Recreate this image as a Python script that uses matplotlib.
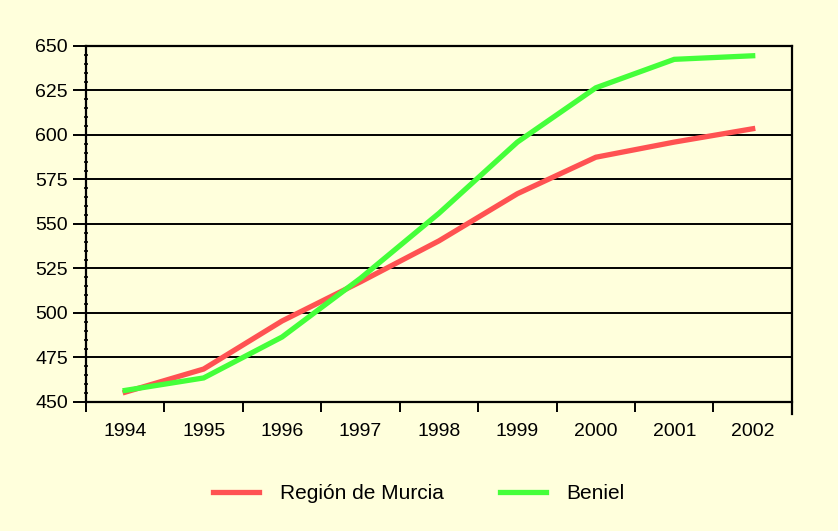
import matplotlib.pyplot as plt
from matplotlib.ticker import MultipleLocator, FixedLocator, NullFormatter

plt.rcParams['font.family'] = ['Liberation Sans', 'DejaVu Sans']

# ---------------------------
# Data
# ---------------------------
years = ["1994", "1995", "1996", "1997", "1998", "1999", "2000", "2001", "2002"]
murcia = [455.5, 468.5, 495.5, 517.5, 540.5, 567, 587.5, 596, 603.5]
beniel = [456.5, 463.5, 486.5, 519.5, 556, 596, 626.5, 642.5, 644.5]

bg = "#FFFFDC"
red = "#FF5252"
green = "#44FF3A"

fig = plt.figure(figsize=(8.38, 5.31), dpi=100, facecolor=bg)
ax = fig.add_axes([0.1026, 0.243, 0.8424, 0.6704], facecolor=bg)

x = list(range(len(years)))
ax.plot(x, murcia, color=red, lw=3.8, label="Región de Murcia", solid_joinstyle="miter")
ax.plot(x, beniel, color=green, lw=3.8, label="Beniel", solid_joinstyle="miter")

ax.set_xlim(-0.5, len(years) - 0.5)
ax.set_ylim(450, 650)

# y axis: majors every 25, minors every 5
ax.yaxis.set_major_locator(MultipleLocator(25))
ax.yaxis.set_minor_locator(MultipleLocator(5))
ax.tick_params(axis="y", which="major", direction="out", length=9.4, width=1.4, labelsize=14, pad=3.5)
ax.tick_params(axis="y", which="minor", direction="inout", length=3, width=1.2)
ax.grid(axis="y", which="major", color="black", lw=1.4)

# x axis: ticks between categories, labels at centres
ax.xaxis.set_major_locator(FixedLocator([i - 0.5 for i in range(len(years) + 1)]))
ax.xaxis.set_major_formatter(NullFormatter())
ax.xaxis.set_minor_locator(FixedLocator(x))
ax.set_xticklabels(years, minor=True)
ax.tick_params(axis="x", which="major", direction="out", length=7, width=1.4)
ax.tick_params(axis="x", which="minor", length=0, labelsize=14, pad=15)

for side in ["left", "right", "bottom", "top"]:
    ax.spines[side].set_linewidth(1.6)
ax.spines["right"].set_bounds(443, 650)
ax.set_axisbelow(True)

leg = fig.legend(loc="center", bbox_to_anchor=(0.5, 0.07), ncol=2, frameon=False,
                 fontsize=15, handlelength=2.2, handletextpad=1.0, columnspacing=2.7)

fig.savefig("out.png", dpi=100, facecolor=bg)
plt.close(fig)
